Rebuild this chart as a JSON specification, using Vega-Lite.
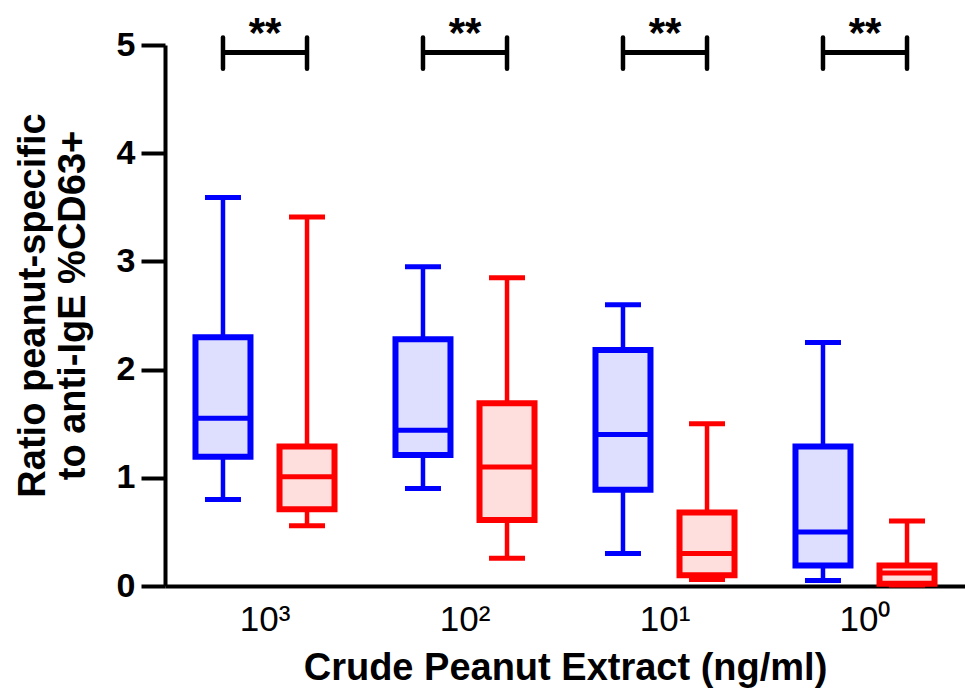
{
  "$schema": "https://vega.github.io/schema/vega-lite/v6.json",
  "autosize": "none",
  "width": 800,
  "height": 541,
  "padding": {"left": 165, "top": 45, "right": 0, "bottom": 110},
  "config": {
    "view": {"stroke": null},
    "font": "Liberation Sans",
    "tick": {"opacity": 1},
    "bar": {"opacity": 1}
  },
  "datasets": {
    "boxes": [
      {"conc": "10³", "series": "s1", "min": 0.80, "q1": 1.195, "median": 1.55, "q3": 2.30, "max": 3.59},
      {"conc": "10³", "series": "s2", "min": 0.557, "q1": 0.71, "median": 1.01, "q3": 1.29, "max": 3.41},
      {"conc": "10²", "series": "s1", "min": 0.90, "q1": 1.21, "median": 1.44, "q3": 2.28, "max": 2.95},
      {"conc": "10²", "series": "s2", "min": 0.256, "q1": 0.61, "median": 1.10, "q3": 1.69, "max": 2.85},
      {"conc": "10¹", "series": "s1", "min": 0.30, "q1": 0.89, "median": 1.40, "q3": 2.18, "max": 2.60},
      {"conc": "10¹", "series": "s2", "min": 0.06, "q1": 0.10, "median": 0.30, "q3": 0.68, "max": 1.50},
      {"conc": "10⁰", "series": "s1", "min": 0.05, "q1": 0.19, "median": 0.50, "q3": 1.29, "max": 2.25},
      {"conc": "10⁰", "series": "s2", "min": 0.01, "q1": 0.02, "median": 0.12, "q3": 0.19, "max": 0.60}
    ],
    "sig": [
      {"conc": "10³", "label": "**"},
      {"conc": "10²", "label": "**"},
      {"conc": "10¹", "label": "**"},
      {"conc": "10⁰", "label": "**"}
    ]
  },
  "encoding": {
    "x": {
      "field": "conc", "type": "nominal",
      "sort": ["10³", "10²", "10¹", "10⁰"],
      "scale": {"paddingInner": 0, "paddingOuter": 0},
      "axis": {
        "title": "Crude Peanut Extract (ng/ml)",
        "titleFontSize": 38, "titleFontWeight": "bold", "titleColor": "black", "titlePadding": 12,
        "labelAngle": 0, "labelFontSize": 35, "labelColor": "black",
        "labelPadding": 16,
        "ticks": false, "domainColor": "black", "domainWidth": 4
      }
    }
  },
  "layer": [
    {
      "data": {"name": "boxes"},
      "mark": {"type": "rule", "strokeWidth": 4.5},
      "encoding": {
        "xOffset": {"field": "series", "type": "nominal", "scale": {"paddingInner": 0, "paddingOuter": 0.19}},
        "y": {
          "field": "min", "type": "quantitative",
          "scale": {"domain": [0, 5], "nice": false},
          "axis": {
            "values": [0, 1, 2, 3, 4, 5], "format": "d",
            "title": ["Ratio peanut-specific", "to anti-IgE %CD63+"],
            "titleFontSize": 38, "titleFontWeight": "bold", "titleColor": "black", "titleLineHeight": 40,
            "titlePadding": 24, "titleY": 260,
            "labelFontSize": 34, "labelFontWeight": "bold", "labelColor": "black", "labelPadding": 6,
            "tickSize": 24, "tickWidth": 4, "tickColor": "black",
            "domainColor": "black", "domainWidth": 4, "grid": false
          }
        },
        "y2": {"field": "max"},
        "color": {"field": "series", "type": "nominal", "scale": {"domain": ["s1", "s2"], "range": ["#0000ff", "#ff0000"]}, "legend": null}
      }
    },
    {
      "data": {"name": "boxes"},
      "mark": {"type": "tick", "thickness": 5, "size": 36},
      "encoding": {
        "xOffset": {"field": "series", "type": "nominal"},
        "y": {"field": "min", "type": "quantitative"},
        "color": {"field": "series", "type": "nominal"}
      }
    },
    {
      "data": {"name": "boxes"},
      "mark": {"type": "tick", "thickness": 5, "size": 36},
      "encoding": {
        "xOffset": {"field": "series", "type": "nominal"},
        "y": {"field": "max", "type": "quantitative"},
        "color": {"field": "series", "type": "nominal"}
      }
    },
    {
      "data": {"name": "boxes"},
      "mark": {"type": "bar", "size": 55, "strokeWidth": 6},
      "encoding": {
        "xOffset": {"field": "series", "type": "nominal"},
        "y": {"field": "q1", "type": "quantitative"},
        "y2": {"field": "q3"},
        "stroke": {"field": "series", "type": "nominal", "scale": {"domain": ["s1", "s2"], "range": ["#0000ff", "#ff0000"]}, "legend": null},
        "fill": {"field": "series", "type": "nominal", "scale": {"domain": ["s1", "s2"], "range": ["#dedeff", "#ffdede"]}, "legend": null}
      }
    },
    {
      "data": {"name": "boxes"},
      "mark": {"type": "tick", "thickness": 5, "size": 56},
      "encoding": {
        "xOffset": {"field": "series", "type": "nominal"},
        "y": {"field": "median", "type": "quantitative"},
        "color": {"field": "series", "type": "nominal"}
      }
    },
    {
      "data": {"name": "boxes"},
      "mark": {"type": "rule", "strokeWidth": 4.5, "color": "black", "strokeCap": "round"},
      "encoding": {
        "xOffset": {"field": "series", "type": "nominal"},
        "y": {"datum": 4.78},
        "y2": {"datum": 5.07}
      }
    },
    {
      "data": {"name": "sig"},
      "mark": {"type": "tick", "thickness": 5, "size": 84, "color": "black"},
      "encoding": {
        "y": {"datum": 4.93}
      }
    },
    {
      "data": {"name": "sig"},
      "mark": {"type": "text", "fontSize": 42, "fontWeight": "bold", "color": "black", "baseline": "alphabetic"},
      "encoding": {
        "y": {"datum": 4.98},
        "text": {"field": "label"}
      }
    }
  ]
}
